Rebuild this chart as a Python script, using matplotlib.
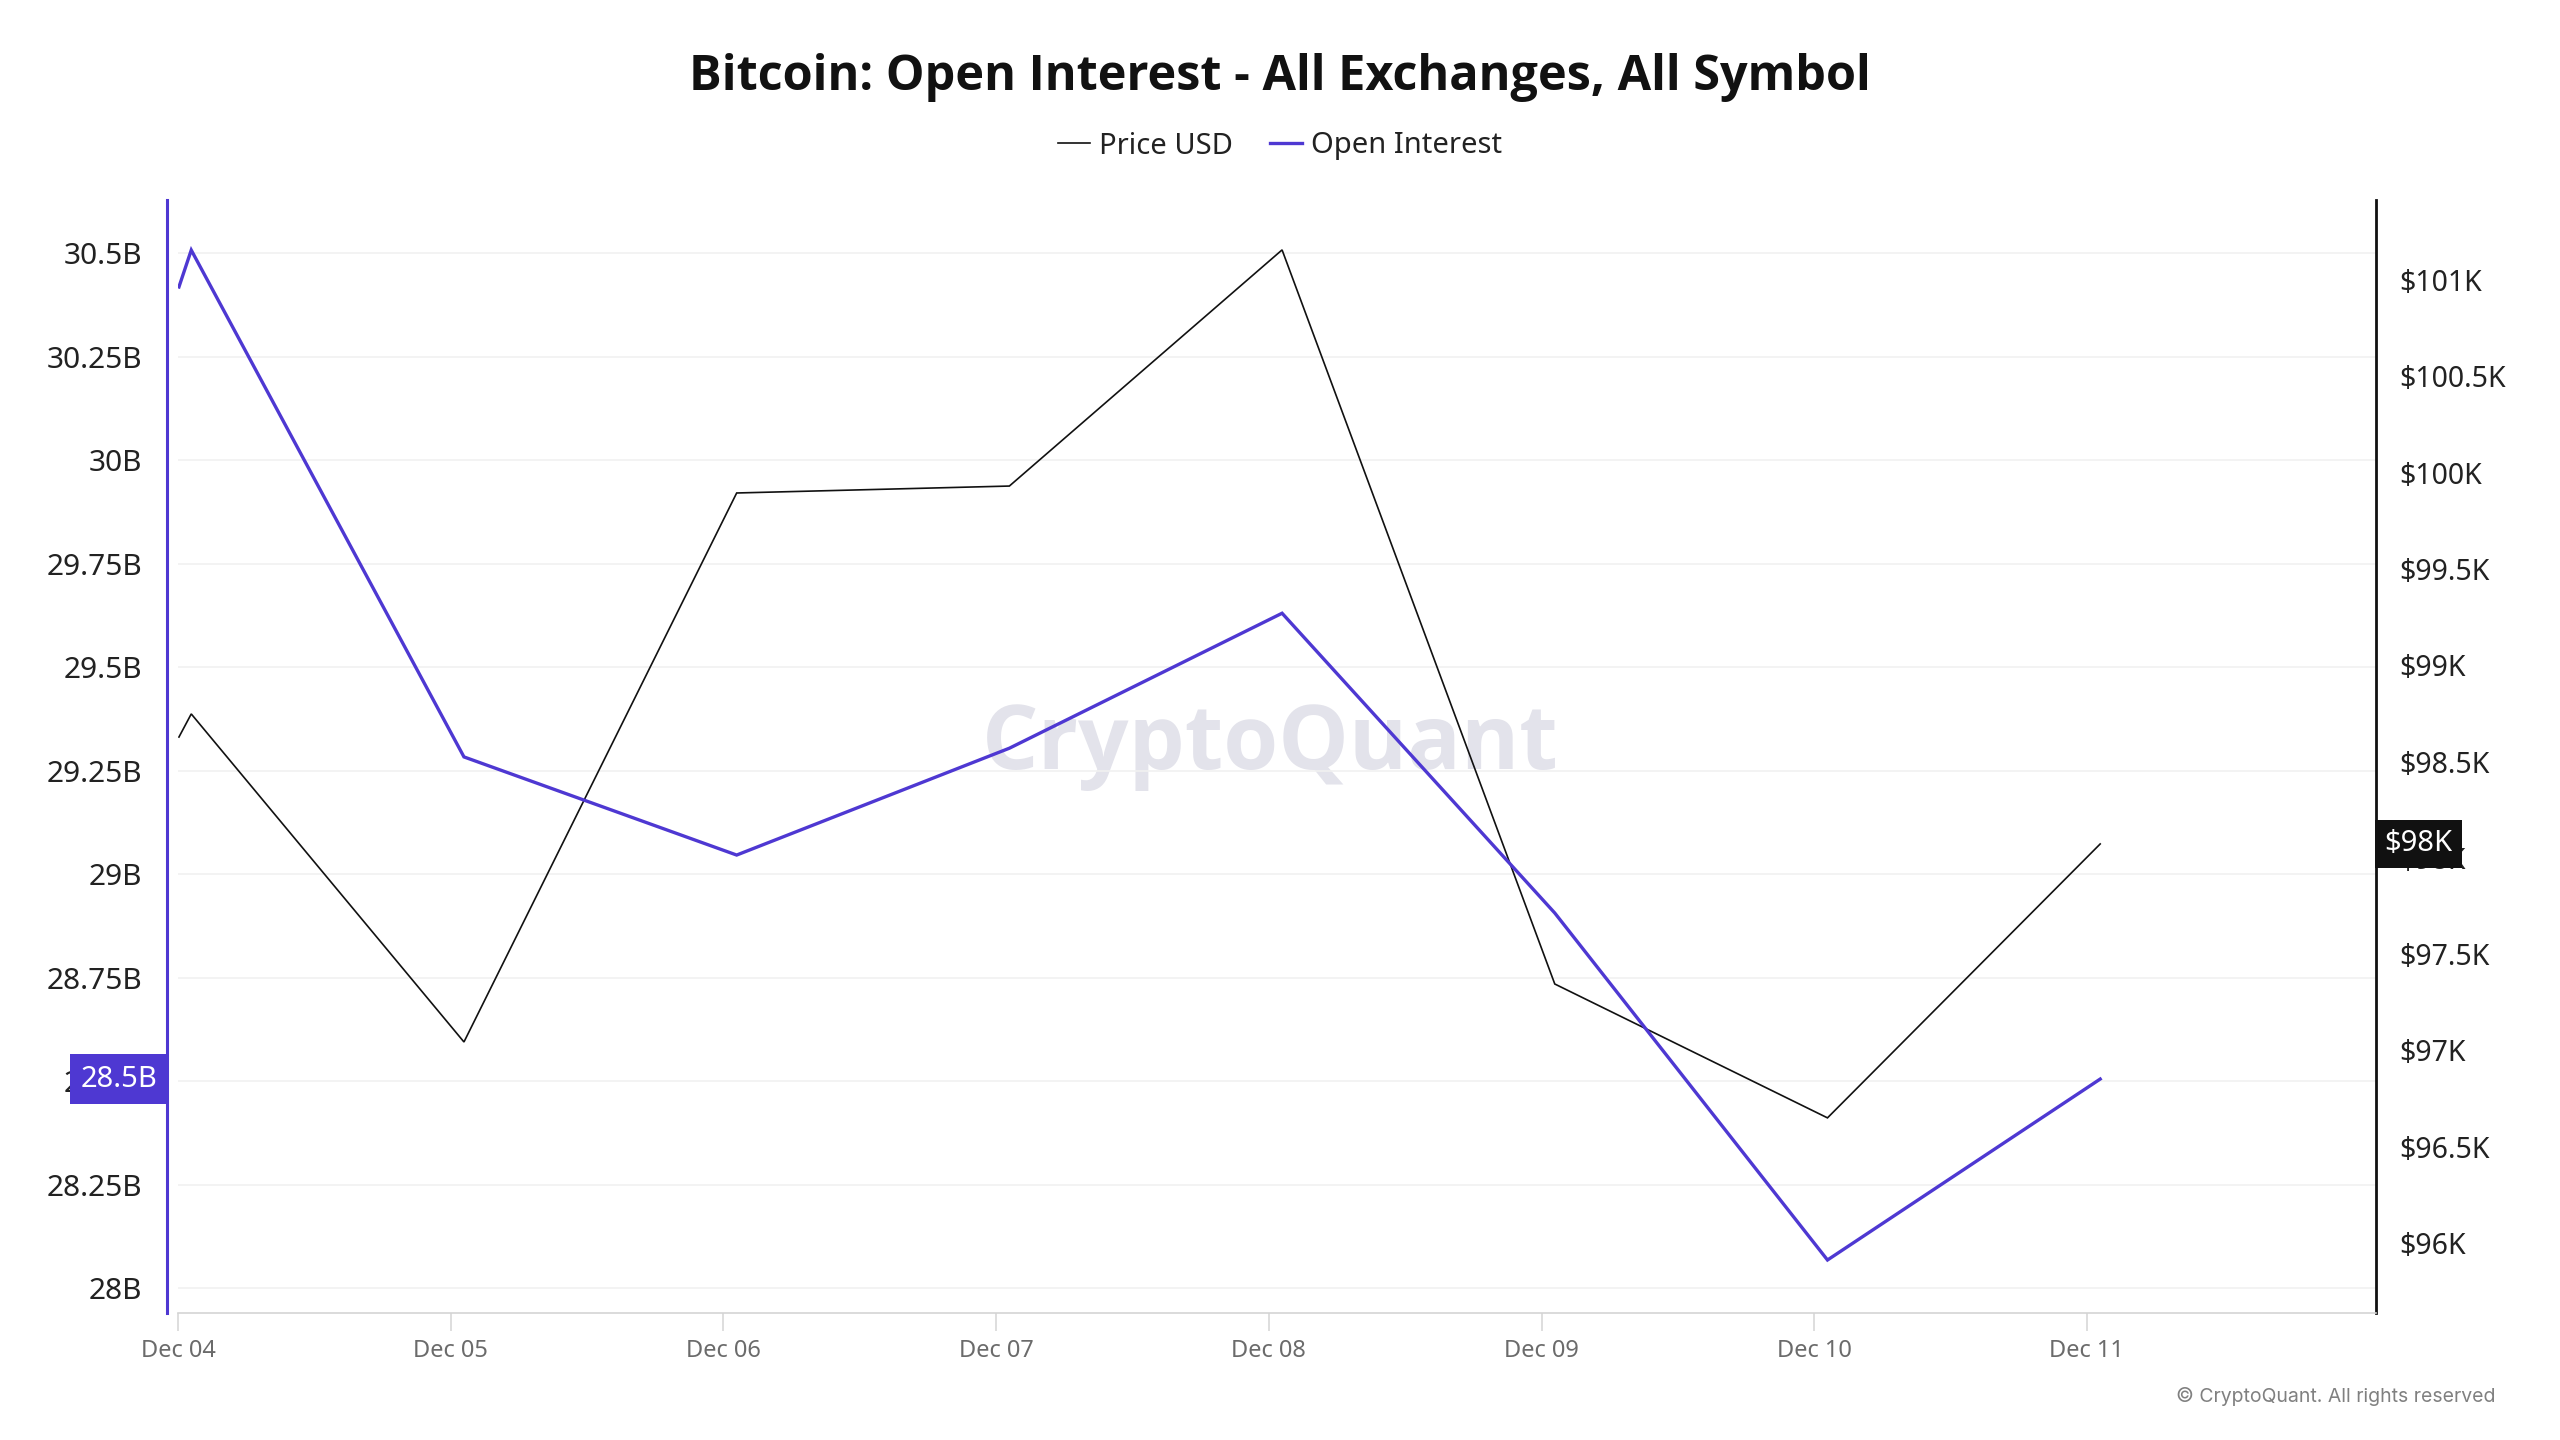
import numpy as np
import pandas as pd
import matplotlib
matplotlib.use("Agg")
import matplotlib.pyplot as plt
import matplotlib.dates as mdates
import matplotlib.lines as mlines
from matplotlib.transforms import blended_transform_factory

plt.rcParams['font.family'] = ['Noto Sans', 'DejaVu Sans']

# data (Dec 2024, daily points + the first sample of Dec 04)
times = ["2024-12-04 00:05", "2024-12-04 01:10", "2024-12-05 01:10", "2024-12-06 01:10",
         "2024-12-07 01:10", "2024-12-08 01:10", "2024-12-09 01:10", "2024-12-10 01:10",
         "2024-12-11 01:10"]
open_interest = [30.418, 30.507, 29.283, 29.046, 29.304, 29.630, 28.906, 28.068, 28.505]  # billions
price_usd = [98627, 98747, 97044, 99894, 99930, 101156, 97345, 96650, 98072]

oi_ticks = [28, 28.25, 28.5, 28.75, 29, 29.25, 29.5, 29.75, 30, 30.25, 30.5]
price_ticks = [96000, 96500, 97000, 97500, 98000, 98500, 99000, 99500, 100000, 100500, 101000]
day_ticks = ["2024-12-04", "2024-12-05", "2024-12-06", "2024-12-07",
             "2024-12-08", "2024-12-09", "2024-12-10", "2024-12-11"]

PURPLE = '#4e38d2'
BLACK = '#111111'

x = pd.to_datetime(times)

fig = plt.figure(figsize=(25.6, 14.4), dpi=100)
ax = fig.add_axes([178/2560, 1 - 1313/1440, (2376 - 178)/2560, (1313 - 200)/1440])
ax2 = ax.twinx()
# purple series on top of the black one
ax.set_zorder(ax2.get_zorder() + 1)
ax.patch.set_visible(False)

x0 = pd.Timestamp("2024-12-04")
ax.set_xlim(x0, x0 + pd.Timedelta(days=8.06))
ax.set_ylim(27.94, 30.628)
ax2.set_ylim(95637, 101415)

# grid of the left axis, drawn on the lower axes so it stays under both lines
grid_tr = blended_transform_factory(ax2.transAxes, ax.transData)
ax2.hlines(oi_ticks, 0, 1, transform=grid_tr, color='#f1f1f1', lw=1.2, zorder=0.5)

ax2.plot(x, price_usd, color=BLACK, lw=1.2, solid_joinstyle='miter', zorder=2)
ax.plot(x, open_interest, color=PURPLE, lw=2.4, solid_joinstyle='miter')

# left axis
ax.set_yticks(oi_ticks)
ax.set_yticklabels([f"{v:g}B" for v in oi_ticks])
ax.tick_params(axis='y', length=0, pad=18, labelsize=21.5, labelcolor='#222222')
ax.spines['left'].set_position(('outward', 8))
ax.spines['left'].set_color(PURPLE)
ax.spines['left'].set_linewidth(2.2)
ax.spines['right'].set_visible(False)
ax.spines['top'].set_visible(False)
ax.spines['bottom'].set_color('#d4d4d4')
ax.spines['bottom'].set_linewidth(1.2)

# x axis
ax.set_xticks(pd.to_datetime(day_ticks))
ax.xaxis.set_major_formatter(mdates.DateFormatter('%b %d'))
ax.tick_params(axis='x', length=13, width=1.1, color='#d4d4d4', pad=6,
               labelsize=17, labelcolor='#6b6b6b')

# right axis
ax2.set_yticks(price_ticks)
ax2.set_yticklabels([f"${v/1000:g}K" for v in price_ticks])
ax2.tick_params(axis='y', length=0, pad=17, labelsize=20.5, labelcolor='#222222')
for s in ['left', 'top', 'bottom']:
    ax2.spines[s].set_visible(False)
ax2.spines['right'].set_color(BLACK)
ax2.spines['right'].set_linewidth(2.0)

# last value badges on both axes
tl = blended_transform_factory(ax.transAxes, ax.transData)
ax.text(-0.0095, open_interest[-1], f"{open_interest[-1]:.1f}B", transform=tl,
        ha='right', va='center', fontsize=21, color='white', zorder=20, clip_on=False,
        bbox=dict(boxstyle='square,pad=0.36', fc=PURPLE, ec='none'))
tr = blended_transform_factory(ax2.transAxes, ax2.transData)
ax2.text(1.0038, price_usd[-1], f"${price_usd[-1]/1000:.0f}K", transform=tr,
         ha='left', va='center', fontsize=21, color='white', zorder=20, clip_on=False,
         bbox=dict(boxstyle='square,pad=0.32', fc=BLACK, ec='none'))

# title, legend, watermark, footer
fig.text(0.5, 1 - 78/1440, "Bitcoin: Open Interest - All Exchanges, All Symbol",
         ha='center', va='center', fontsize=35, fontweight='bold', family='Open Sans',
         color='#111111')
h1 = mlines.Line2D([], [], color=BLACK, lw=1.2, label='Price USD')
h2 = mlines.Line2D([], [], color=PURPLE, lw=2.4, label='Open Interest')
fig.legend(handles=[h1, h2], loc='center', bbox_to_anchor=(0.5, 1 - 146/1440), ncol=2,
           frameon=False, fontsize=21, handlelength=1.1, handletextpad=0.3,
           columnspacing=1.3, labelcolor='#222222')
fig.text(1270/2560, 1 - 746/1440, "CryptoQuant", ha='center', va='center',
         fontsize=64, family='Open Sans', fontweight='bold', color='#e3e3eb', zorder=-1)
fig.text(2496/2560, 1 - 1396/1440, "\u00a9 CryptoQuant. All rights reserved",
         ha='right', va='center', fontsize=14, family='Inter', color='#808080')

fig.savefig('out.png', dpi=100, facecolor='white')
